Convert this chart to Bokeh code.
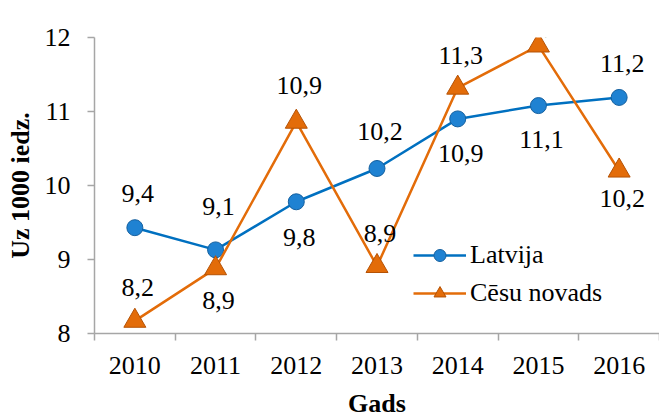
from bokeh.plotting import figure
from bokeh.models import Range1d, FixedTicker, Legend, LegendItem, ColumnDataSource
from bokeh.core.properties import value
from bokeh.embed import file_html
from bokeh.resources import INLINE

# ---- data ----
years = ["2010", "2011", "2012", "2013", "2014", "2015", "2016"]
latvija = [9.43, 9.13, 9.78, 10.23, 10.90, 11.08, 11.19]
cesu = [8.17, 8.88, 10.86, 8.91, 11.32, 11.89, 10.20]
y_ticks = [8, 9, 10, 11, 12]

# label offsets in screen pixels (negative = above the point)
lat_label_dy = [-34, -43, 36, -37, 35, 34, -34]
cesu_label_dy = [-33, 32, -36, -33, -32, -20, 28]

FONT = "Liberation Serif"
BLUE = "#0070C0"
BLUE_FILL = "#1F82D2"
BLUE_EDGE = "#15609F"
ORANGE = "#E36C09"
ORANGE_EDGE = "#B55205"
AXIS = "#A6A6A6"

xs = [i + 0.5 for i in range(len(years))]


def fmt(v):
    return ("%.1f" % v).replace(".", ",")


src_lat = ColumnDataSource(dict(x=xs, y=latvija, lab=[fmt(v) for v in latvija], dy=lat_label_dy))
src_ces = ColumnDataSource(dict(x=xs, y=cesu, lab=[fmt(v) for v in cesu], dy=cesu_label_dy))

p = figure(width=659, height=420, output_backend="svg", toolbar_location=None,
           x_range=Range1d(0, len(years)), y_range=Range1d(y_ticks[0], y_ticks[-1]),
           min_border_left=94, min_border_right=0, min_border_top=37, min_border_bottom=84)
p.outline_line_color = None
p.grid.visible = False
p.background_fill_color = "white"
p.border_fill_color = "white"

# x axis: labels at category centres, ticks at category boundaries
xa = p.xaxis[0]
xa.ticker = FixedTicker(ticks=xs, minor_ticks=list(range(len(years) + 1)))
xa.major_label_overrides = {x: y for x, y in zip(xs, years)}
xa.major_tick_out = 0
xa.major_tick_in = 0
xa.major_tick_line_color = None
xa.minor_tick_out = 7
xa.minor_tick_in = 0
xa.minor_tick_line_color = AXIS
xa.minor_tick_line_width = 1.5
xa.axis_line_color = AXIS
xa.axis_line_width = 1.5
xa.major_label_standoff = 16
xa.axis_label = "Gads"
xa.axis_label_standoff = 12

ya = p.yaxis[0]
ya.ticker = FixedTicker(ticks=y_ticks)
ya.major_tick_out = 7
ya.major_tick_in = 0
ya.major_tick_line_color = AXIS
ya.major_tick_line_width = 1.5
ya.minor_tick_line_color = None
ya.axis_line_color = AXIS
ya.axis_line_width = 1.5
ya.major_label_standoff = 17
ya.axis_label = "Uz 1000 iedz."
ya.axis_label_standoff = 7

for ax in (xa, ya):
    ax.major_label_text_font = FONT
    ax.major_label_text_font_size = "26px"
    ax.major_label_text_color = "black"
    ax.axis_label_text_font = FONT
    ax.axis_label_text_font_size = "26px"
    ax.axis_label_text_font_style = "bold"
    ax.axis_label_text_color = "black"

# series
lat_line = p.line("x", "y", source=src_lat, line_color=BLUE, line_width=2.5)
lat_mark = p.scatter("x", "y", source=src_lat, marker="circle", size=16,
                     fill_color=BLUE_FILL, line_color=BLUE_EDGE, line_width=1)
ces_line = p.line("x", "y", source=src_ces, line_color=ORANGE, line_width=2.5)
ces_mark = p.scatter("x", "y", source=src_ces, marker="triangle", size=22,
                     fill_color=ORANGE, line_color=ORANGE_EDGE, line_width=1)

for src in (src_lat, src_ces):
    p.text("x", "y", text="lab", source=src, y_offset="dy", x_offset=3,
           text_align="center", text_baseline="middle",
           text_font=value(FONT), text_font_size="26px", text_color="black")

legend = Legend(items=[LegendItem(label="Latvija", renderers=[lat_line, lat_mark]),
                       LegendItem(label="Cēsu novads", renderers=[ces_line, ces_mark])],
                location=(319, 25), orientation="vertical")
legend.padding = 0
legend.margin = 0
legend.spacing = 8
legend.glyph_width = 53
legend.glyph_height = 30
legend.label_height = 30
legend.label_standoff = 4
legend.label_text_font = FONT
legend.label_text_font_size = "26px"
legend.label_text_color = "black"
legend.border_line_color = None
legend.background_fill_alpha = 0
p.add_layout(legend, "center")

open("out.html", "w").write(file_html(p, INLINE))
